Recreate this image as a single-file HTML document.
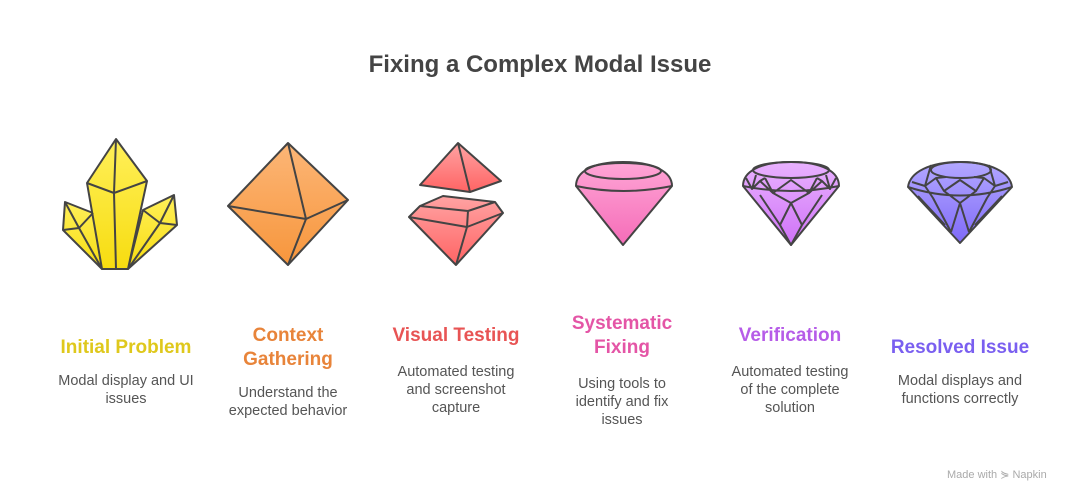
<!DOCTYPE html>
<html><head><meta charset="utf-8"><style>
body{margin:0;width:1080px;height:504px;background:#fff;position:relative;overflow:hidden;font-family:"Liberation Sans",sans-serif}
.t{position:absolute;text-align:center;font-weight:bold;font-size:19px;line-height:24px;width:200px}
.d{position:absolute;text-align:center;font-size:14.5px;line-height:18px;color:#555;width:200px}
</style></head><body>
<div style="position:absolute;left:0;width:1080px;top:51px;text-align:center;font-size:24px;font-weight:bold;color:#444">Fixing a Complex Modal Issue</div>
<svg width="1080" height="504" style="position:absolute;left:0;top:0" stroke="#444" stroke-width="2" stroke-linejoin="round" fill="none">
<defs>
<linearGradient id="gy" x1="0" y1="0" x2="0" y2="1"><stop offset="0" stop-color="#fff05a"/><stop offset="1" stop-color="#f7dc10"/></linearGradient>
<linearGradient id="go" x1="0" y1="0" x2="0" y2="1"><stop offset="0" stop-color="#fcb677"/><stop offset="1" stop-color="#f7963c"/></linearGradient>
<linearGradient id="gr" x1="0" y1="0" x2="0" y2="1"><stop offset="0" stop-color="#ffa3a3"/><stop offset="1" stop-color="#ff6464"/></linearGradient>
<linearGradient id="gp" x1="0" y1="0" x2="0" y2="1"><stop offset="0" stop-color="#ffa6d6"/><stop offset="1" stop-color="#f56cb8"/></linearGradient>
<linearGradient id="gv" x1="0" y1="0" x2="0" y2="1"><stop offset="0" stop-color="#e9b2ff"/><stop offset="1" stop-color="#cf72f7"/></linearGradient>
<linearGradient id="gb" x1="0" y1="0" x2="0" y2="1"><stop offset="0" stop-color="#b3a8ff"/><stop offset="1" stop-color="#7f6af8"/></linearGradient>
</defs>
<g fill="url(#gy)">
<path d="M93,213 L65,202 L63,230 L102,269 Z"/>
<path d="M143,210 L174,195 L177,225 L128,269 Z"/>
<path d="M116,139 L87,183 L102,269 L128,269 L147,181 Z"/>
</g>
<path d="M116,139 L114,193 L116,269 M87,183 L114,193 L147,181 M65,202 L79,228 L102,269 M63,230 L79,228 L93,213 M174,195 L160,223 L128,269 M160,223 L177,225 M160,223 L143,210"/>
<path d="M288,143 L228,206 L288,265 L348,200 Z" fill="url(#go)"/>
<path d="M288,143 L306,219 L288,265 M228,206 L306,219 L348,200"/>
<path d="M458,143 L420,185 L470,192 L501,181 Z" fill="url(#gr)"/>
<path d="M458,143 L470,192"/>
<path d="M443,196 L495,202 L503,213 L456,265 L409,217 L420,206 Z" fill="url(#gr)"/>
<path d="M420,206 L468,211 L495,202 M468,211 L467,227 M409,217 L467,227 L503,213 M467,227 L456,265"/>
<path d="M576,186 C576,172 592,162 623,162 C654,162 672,172 672,186 L623,245 Z" fill="url(#gp)"/>
<ellipse cx="623" cy="171" rx="38" ry="8"/>
<path d="M576,186 Q623,196 672,186"/>
<path d="M743,186 C743,172 759,162 791,162 C823,162 839,172 839,186 L791,245 Z" fill="url(#gv)"/>
<ellipse cx="791" cy="170" rx="38" ry="8"/>
<path d="M743,186 Q791,196 839,186 M746,178 L752,189 L760,181 L773,193 L791,180 L809,193 L822,181 L830,189 L836,178 M752,189 L756,175 M830,189 L826,175 M773,193 L765,178 M809,193 L817,178 M760,181 L765,178 M822,181 L817,178 M773,193 L791,203 L809,193 M791,203 L780,225 L791,245 L802,225 L791,203 M760,195 L780,225 M822,195 L802,225"/>
<path d="M908,187 C910,172 930,162 960,162 C990,162 1010,172 1012,187 L960,243 Z" fill="url(#gb)"/>
<ellipse cx="961" cy="170" rx="30" ry="8"/>
<path d="M908,187 Q960,204 1012,187 M931,165 L925,186 L936,178 L944,191 L960,180 L976,191 L984,178 L995,186 L989,165 M912,182 L925,186 M1008,182 L995,186 M944,191 L960,203 L976,191 M925,186 L933,198 M995,186 L987,198 M936,178 L946,177 M984,178 L974,177 M960,203 L951,232 M960,203 L969,232 M933,198 L951,232 M987,198 L969,232 M918,196 L945,225 M1002,196 L975,225"/>
</svg>
<div class="t" style="left:26px;top:336px;color:#dfc81c">Initial Problem</div>
<div class="d" style="left:26px;top:372px">Modal display and UI<br>issues</div>
<div class="t" style="left:188px;top:324px;color:#e8843a">Context<br>Gathering</div>
<div class="d" style="left:188px;top:384px">Understand the<br>expected behavior</div>
<div class="t" style="left:356px;top:324px;color:#e85454">Visual Testing</div>
<div class="d" style="left:356px;top:363px">Automated testing<br>and screenshot<br>capture</div>
<div class="t" style="left:522px;top:312px;color:#e455a6">Systematic<br>Fixing</div>
<div class="d" style="left:522px;top:375px">Using tools to<br>identify and fix<br>issues</div>
<div class="t" style="left:690px;top:324px;color:#b65ce8">Verification</div>
<div class="d" style="left:690px;top:363px">Automated testing<br>of the complete<br>solution</div>
<div class="t" style="left:860px;top:336px;color:#7a5ff0">Resolved Issue</div>
<div class="d" style="left:860px;top:372px">Modal displays and<br>functions correctly</div>
<div style="position:absolute;left:947px;top:468px;font-size:11px;color:#aaa">Made with ⋟ Napkin</div>
</body></html>
